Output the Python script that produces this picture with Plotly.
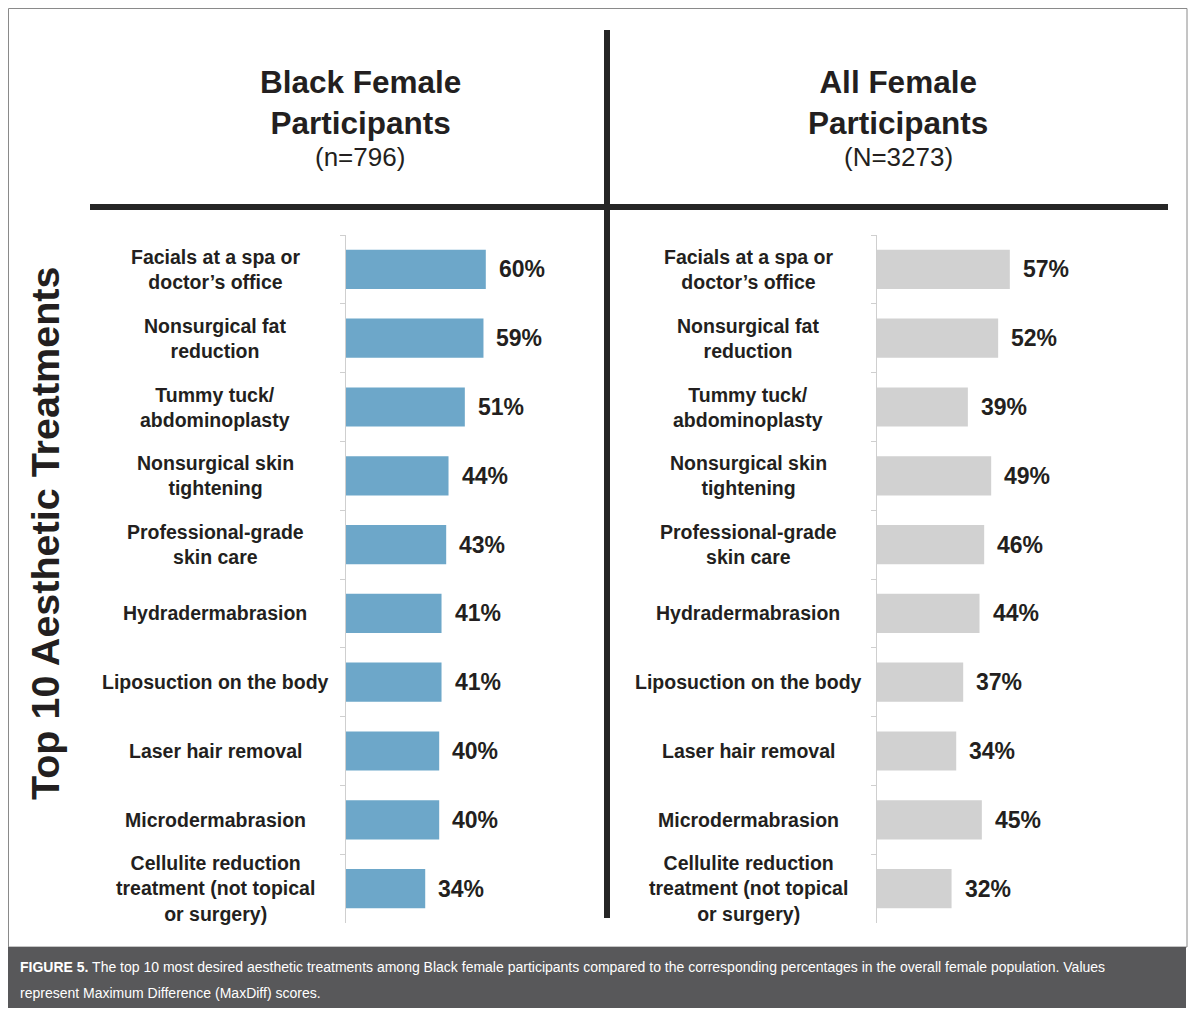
import plotly.graph_objects as go

# data
treatments = [
    "Facials at a spa or<br>doctor’s office",
    "Nonsurgical fat<br>reduction",
    "Tummy tuck/<br>abdominoplasty",
    "Nonsurgical skin<br>tightening",
    "Professional-grade<br>skin care",
    "Hydradermabrasion",
    "Liposuction on the body",
    "Laser hair removal",
    "Microdermabrasion",
    "Cellulite reduction<br>treatment (not topical<br>or surgery)",
]
black_female = [60, 59, 51, 44, 43, 41, 41, 40, 40, 34]
all_female = [57, 52, 39, 49, 46, 44, 37, 34, 45, 32]

panel_titles = ["<b>Black Female<br>Participants</b>", "<b>All Female<br>Participants</b>"]
panel_counts = ["(n=796)", "(N=3273)"]
side_title = "Top 10 Aesthetic Treatments"
caption_1 = ("<b>FIGURE 5.</b> The top 10 most desired aesthetic treatments among Black female "
             "participants compared to the corresponding percentages in the overall female population. Values")
caption_2 = "represent Maximum Difference (MaxDiff) scores."

# the page adds an 8px body margin, so the figure is drawn 8px in from the corner
OFF = 8
W, H = 1184, 1004
FONT = "Liberation Sans, Arial, sans-serif"
TXT = "#231f20"


def px(x):
    return (x - OFF) / W


def py(y):
    return 1 - (y - OFF) / H


fig = go.Figure()
fig.add_trace(go.Bar(x=black_female, y=treatments, orientation="h", width=0.57,
                     marker=dict(color="#6da7c9", line_width=0), xaxis="x", yaxis="y",
                     hoverinfo="skip"))
fig.add_trace(go.Bar(x=all_female, y=treatments, orientation="h", width=0.57,
                     marker=dict(color="#d1d1d1", line_width=0), xaxis="x2", yaxis="y2",
                     hoverinfo="skip"))

ydom = [py(923), py(235)]
axis_y = dict(type="category", range=[9.5, -0.5], showticklabels=False, showgrid=False,
              showline=True, linecolor="#cfcfcf", linewidth=1, ticks="outside",
              tickson="boundaries", ticklen=5, tickcolor="#cfcfcf", zeroline=False,
              domain=ydom, fixedrange=True)
axis_x = dict(range=[0, 100], visible=False, fixedrange=True)

fig.update_layout(
    width=W, height=H, margin=dict(l=0, r=0, t=0, b=0),
    paper_bgcolor="white", plot_bgcolor="rgba(0,0,0,0)", showlegend=False,
    xaxis=dict(axis_x, domain=[px(346), px(579)], anchor="y"),
    yaxis=dict(axis_y, anchor="x"),
    xaxis2=dict(axis_x, domain=[px(877), px(1110)], anchor="y2"),
    yaxis2=dict(axis_y, anchor="x2"),
    font=dict(family=FONT, color=TXT),
)

ann = []
for xa, ya, vals, lx in [("x", "y", black_female, 215), ("x2", "y2", all_female, 748)]:
    for cat, v in zip(treatments, vals):
        ann.append(dict(x=px(lx), xref="paper", y=cat, yref=ya, text="<b>%s</b>" % cat,
                        showarrow=False, align="center", xanchor="center", yanchor="middle",
                        font=dict(size=19.5, family=FONT, color=TXT)))
        ann.append(dict(x=v, xref=xa, y=cat, yref=ya, text="<b>%d%%</b>" % v,
                        showarrow=False, xanchor="left", yanchor="middle", xshift=11,
                        font=dict(size=23, family=FONT, color=TXT)))

for cx, t, n in [(360, panel_titles[0], panel_counts[0]), (898, panel_titles[1], panel_counts[1])]:
    ann.append(dict(x=px(cx), y=py(102), xref="paper", yref="paper", text=t, showarrow=False,
                    xanchor="center", yanchor="middle", align="center",
                    font=dict(size=31.5, family=FONT, color=TXT)))
    ann.append(dict(x=px(cx), y=py(157), xref="paper", yref="paper", text=n, showarrow=False,
                    xanchor="center", yanchor="middle",
                    font=dict(size=26, family=FONT, color=TXT)))

ann.append(dict(x=px(45), y=py(534), xref="paper", yref="paper", text="<b>%s</b>" % side_title,
                textangle=-90, showarrow=False, xanchor="center", yanchor="middle",
                font=dict(size=39.5, family=FONT, color=TXT)))

cap_font = dict(size=14, family="Liberation Sans, Arial", color="white")
ann.append(dict(x=px(18), y=py(967), xref="paper", yref="paper", text=caption_1, showarrow=False,
                xanchor="left", yanchor="middle", font=cap_font))
ann.append(dict(x=px(18), y=py(993), xref="paper", yref="paper", text=caption_2, showarrow=False,
                xanchor="left", yanchor="middle", font=cap_font))

fig.update_layout(annotations=ann)

shapes = [
    dict(type="rect", xref="paper", yref="paper", x0=px(8.5), x1=px(1187), y0=py(947), y1=py(8.5),
         line=dict(color="#8a8a8a", width=1), fillcolor="rgba(0,0,0,0)", layer="below"),
    dict(type="rect", xref="paper", yref="paper", x0=px(8), x1=px(1186), y0=py(1008), y1=py(947),
         line_width=0, fillcolor="#58585a", layer="below"),
    dict(type="line", xref="paper", yref="paper", x0=px(90), x1=px(1168), y0=py(207), y1=py(207),
         line=dict(color="#262626", width=6)),
    dict(type="line", xref="paper", yref="paper", x0=px(607), x1=px(607), y0=py(30), y1=py(918),
         line=dict(color="#262626", width=6)),
]
fig.update_layout(shapes=shapes)

fig.write_html("out.html")
